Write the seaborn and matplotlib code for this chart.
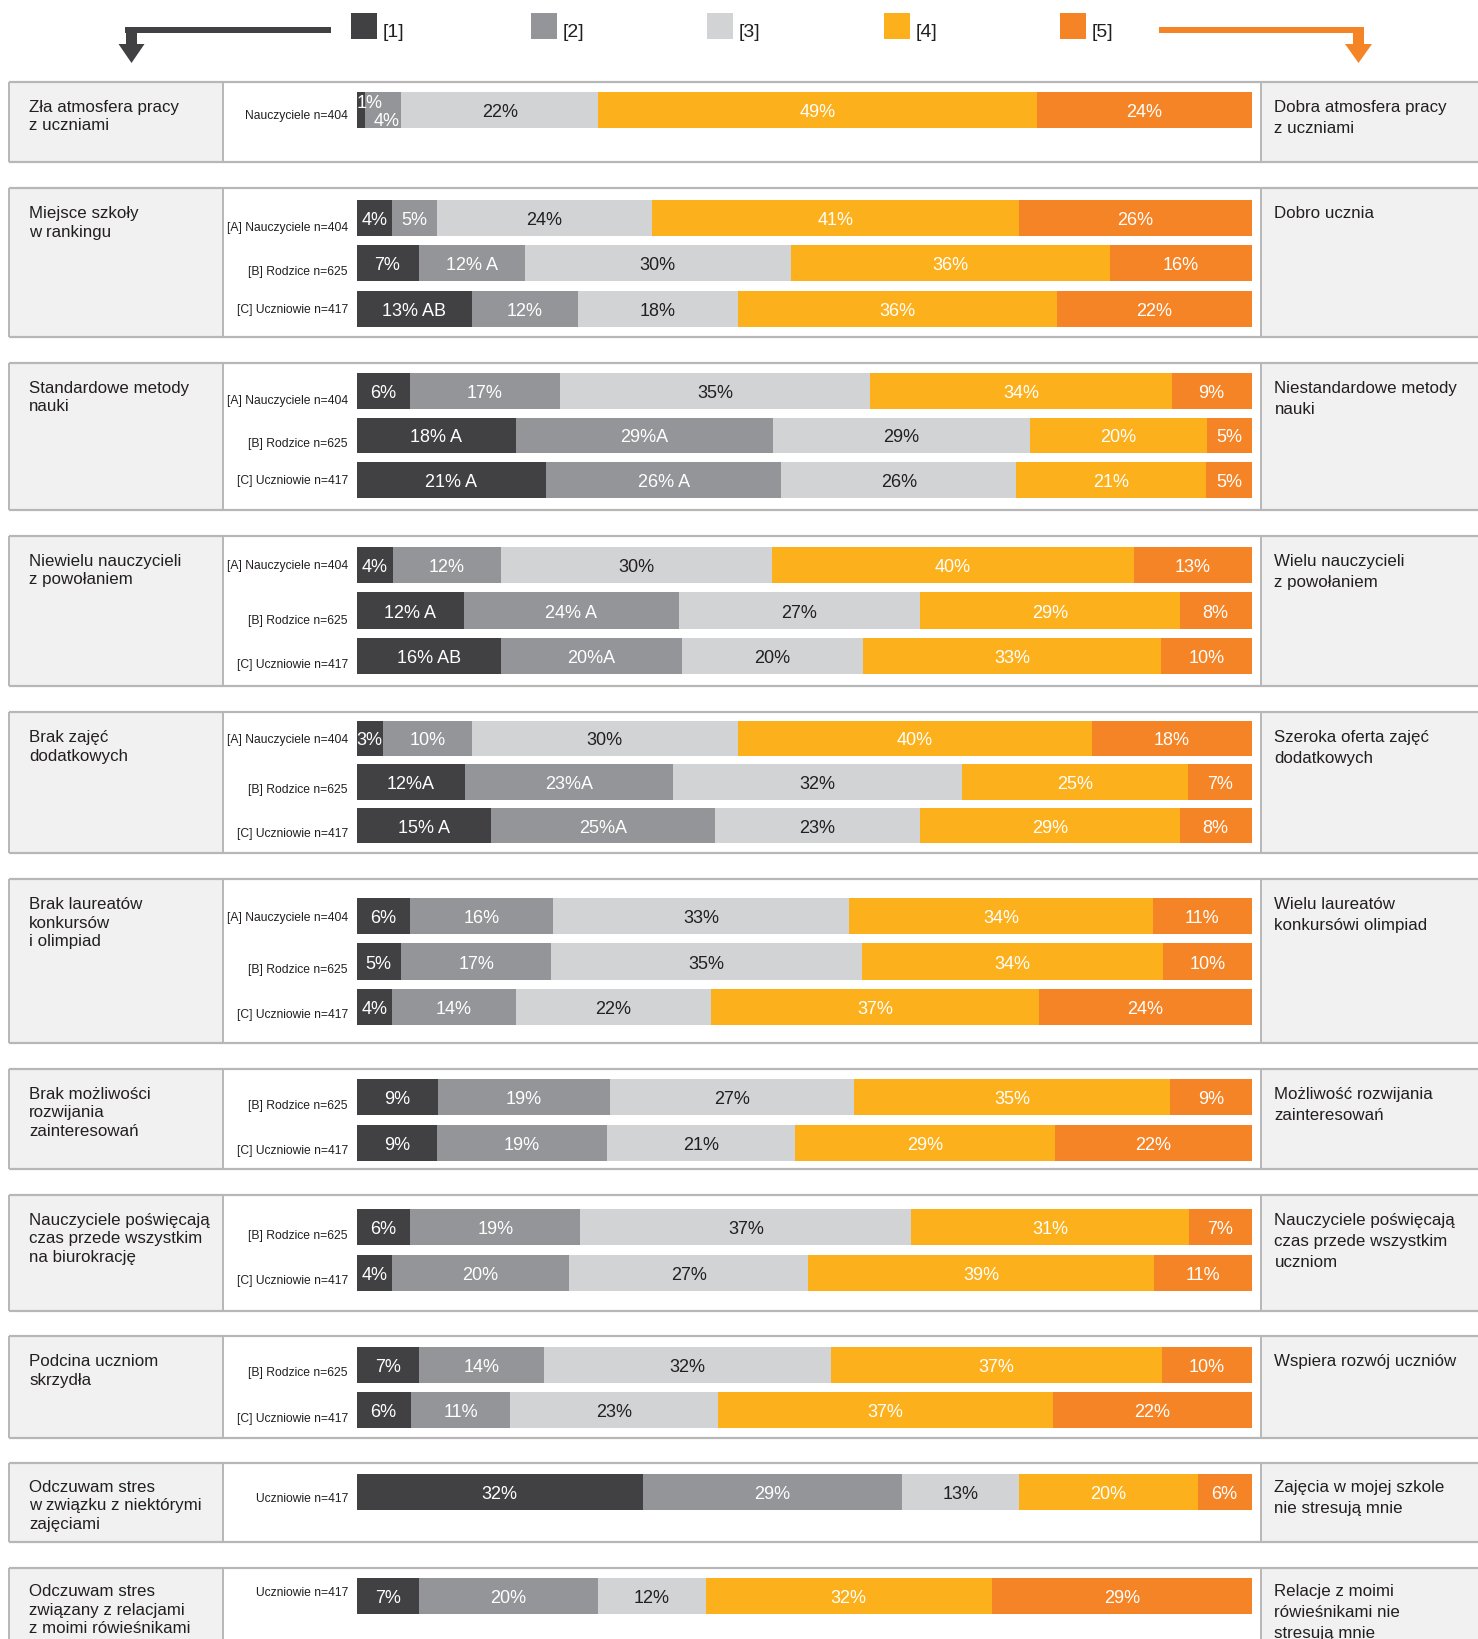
import numpy as np
import pandas as pd
import matplotlib
matplotlib.use("Agg")
import matplotlib.pyplot as plt
import matplotlib.transforms as mtransforms
from matplotlib.patches import Rectangle, Polygon
from matplotlib import font_manager as fm
import seaborn as sns

# ---------------------------------------------------------------- data
SCALE = ["[1]", "[2]", "[3]", "[4]", "[5]"]

LEFT_TEXT = [
    ["Zła atmosfera pracy", "z uczniami"],
    ["Miejsce szkoły", "w rankingu"],
    ["Standardowe metody", "nauki"],
    ["Niewielu nauczycieli", "z powołaniem"],
    ["Brak zajęć", "dodatkowych"],
    ["Brak laureatów", "konkursów", "i olimpiad"],
    ["Brak możliwości", "rozwijania", "zainteresowań"],
    ["Nauczyciele poświęcają", "czas przede wszystkim", "na biurokrację"],
    ["Podcina uczniom", "skrzydła"],
    ["Odczuwam stres", "w związku z niektórymi", "zajęciami"],
    ["Odczuwam stres", "związany z relacjami", "z moimi rówieśnikami"],
]

RIGHT_TEXT = [
    ["Dobra atmosfera pracy", "z uczniami"],
    ["Dobro ucznia"],
    ["Niestandardowe metody", "nauki"],
    ["Wielu nauczycieli", "z powołaniem"],
    ["Szeroka oferta zajęć", "dodatkowych"],
    ["Wielu laureatów", "konkursówi olimpiad"],
    ["Możliwość rozwijania", "zainteresowań"],
    ["Nauczyciele poświęcają", "czas przede wszystkim", "uczniom"],
    ["Wspiera rozwój uczniów"],
    ["Zajęcia w mojej szkole", "nie stresują mnie"],
    ["Relacje z moimi", "rówieśnikami nie", "stresują mnie"],
]

ABC = ["[A] Nauczyciele n=404", "[B] Rodzice n=625", "[C] Uczniowie n=417"]
BC = ["[B] Rodzice n=625", "[C] Uczniowie n=417"]
ROW_NAMES = [
    ["Nauczyciele n=404"],
    ABC, ABC, ABC, ABC, ABC,
    BC, BC, BC,
    ["Uczniowie n=417"],
    ["Uczniowie n=417"],
]

VALUES = [
    [[1, 4, 22, 49, 24]],
    [[4, 5, 24, 41, 26], [7, 12, 30, 36, 16], [13, 12, 18, 36, 22]],
    [[6, 17, 35, 34, 9], [18, 29, 29, 20, 5], [21, 26, 26, 21, 5]],
    [[4, 12, 30, 40, 13], [12, 24, 27, 29, 8], [16, 20, 20, 33, 10]],
    [[3, 10, 30, 40, 18], [12, 23, 32, 25, 7], [15, 25, 23, 29, 8]],
    [[6, 16, 33, 34, 11], [5, 17, 35, 34, 10], [4, 14, 22, 37, 24]],
    [[9, 19, 27, 35, 9], [9, 19, 21, 29, 22]],
    [[6, 19, 37, 31, 7], [4, 20, 27, 39, 11]],
    [[7, 14, 32, 37, 10], [6, 11, 23, 37, 22]],
    [[32, 29, 13, 20, 6]],
    [[7, 20, 12, 32, 29]],
]

# significance letters printed after some percentages
E = ["", "", "", "", ""]
MARKS = [
    [E],
    [E, ["", " A", "", "", ""], [" AB", "", "", "", ""]],
    [E, [" A", "A", "", "", ""], [" A", " A", "", "", ""]],
    [E, [" A", " A", "", "", ""], [" AB", "A", "", "", ""]],
    [E, ["A", "A", "", "", ""], [" A", "A", "", "", ""]],
    [E, E, E],
    [E, E],
    [E, E],
    [E, E],
    [E],
    [E],
]

# ---------------------------------------------------------------- style / layout (pixels)
COLORS = ["#414042", "#939598", "#d1d3d4", "#fcb01b", "#f58426"]
LABEL_COLORS = ["white", "white", "#231f20", "white", "white"]
PANEL_BG = "#f1f1f1"
RULE = "#b7b7b7"
INK = "#231f20"

W, H, DPI = 1478, 1639, 100
X_LEFT0, X_LEFT1 = 9.4, 222.6
X_BAR0, X_BAR1 = 356.5, 1251.5
X_RIGHT0 = 1261.0

PANEL_TOP = [81.7, 188.3, 362.7, 535.7, 712.3, 879, 1069, 1195, 1336, 1463.3, 1567.7]
PANEL_BOTTOM = [162.3, 336.7, 510, 686, 853.3, 1043.3, 1169.3, 1311, 1438.3, 1542.3, 1700]
BARS_TOP = [92.3, 200, 373.3, 546.7, 720.7, 898.3, 1079.3, 1209.3, 1346.7, 1474, 1578.3]
BARS_BOTTOM = [128.3, 326.7, 497.7, 674.3, 843.3, 1024.7, 1160.7, 1290.7, 1428.3, 1510, 1614.3]

# vertical nudge (px, downwards) of row captions relative to the bar centre
ROW_DY = [[4], [8, 7, 0], [8, 7, 0], [0, 9, 7], [0, 7, 7], [0, 7, 7],
          [7, 7], [7, 7], [7, 7], [6], [-5]]
# special placement of the two tiny percentages in the first bar
LABEL_NUDGE = {(0, 0, 0): (9, -9.3), (0, 0, 1): (3, 8.7)}

sns.set_theme(style="white")
names = {f.name for f in fm.fontManager.ttflist}
NARROW = "Liberation Sans Narrow" if "Liberation Sans Narrow" in names else None
plt.rcParams["font.family"] = ["Liberation Sans", "DejaVu Sans"]
if NARROW:
    VAL_FONT = dict(family=[NARROW, "Liberation Sans", "DejaVu Sans"], size=14)
    ROW_FONT = dict(family=[NARROW, "Liberation Sans", "DejaVu Sans"], size=10)
else:
    VAL_FONT = dict(family=["Liberation Sans", "DejaVu Sans"], size=13)
    ROW_FONT = dict(family=["Liberation Sans", "DejaVu Sans"], size=8.7)
CAT_SIZE = 12.2
PX = 72.0 / DPI  # points per pixel

fig = plt.figure(figsize=(W / DPI, H / DPI), dpi=DPI)
fig.patch.set_facecolor("white")

# background canvas in pixel coordinates
bg = fig.add_axes([0, 0, 1, 1])
bg.set_xlim(0, W)
bg.set_ylim(H, 0)
bg.axis("off")
bg.set_zorder(0)

# ---------------------------------------------------------------- legend and arrows
LEG_X = [351, 531, 707, 884, 1060]
for x, name, col in zip(LEG_X, SCALE, COLORS):
    bg.add_patch(Rectangle((x, 13.3), 26, 26, fc=col, ec="none"))
    bg.text(x + 32, 37, name, fontsize=14, color=INK, ha="left", va="baseline")

dark, orange = COLORS[0], COLORS[4]
bg.add_patch(Rectangle((125, 26.5), 331 - 125, 6, fc=dark, ec="none"))
bg.add_patch(Rectangle((126, 26.5), 11, 18, fc=dark, ec="none"))
bg.add_patch(Polygon([(118.5, 44), (144.5, 44), (131.5, 63)], closed=True, fc=dark, ec="none"))

bg.add_patch(Rectangle((1159, 26.5), 1364 - 1159, 6, fc=orange, ec="none"))
bg.add_patch(Rectangle((1353, 26.5), 11, 18, fc=orange, ec="none"))
bg.add_patch(Polygon([(1345, 44), (1372, 44), (1358.5, 63)], closed=True, fc=orange, ec="none"))

# ---------------------------------------------------------------- group frames and texts
for g in range(len(VALUES)):
    top, bot = PANEL_TOP[g], PANEL_BOTTOM[g]
    bg.add_patch(Rectangle((X_LEFT0, top), X_LEFT1 - X_LEFT0, bot - top, fc=PANEL_BG, ec="none"))
    bg.add_patch(Rectangle((X_RIGHT0, top), W - X_RIGHT0, bot - top, fc=PANEL_BG, ec="none"))
    for y in (top, bot):
        bg.plot([X_LEFT0, W], [y, y], color=RULE, lw=1.6, solid_capstyle="butt")
    for x in (X_LEFT0, X_LEFT1, X_RIGHT0):
        bg.plot([x, x], [top, bot], color=RULE, lw=1.4, solid_capstyle="butt")

    first = top + (28.5 if g >= 9 else 30)
    for i, line in enumerate(LEFT_TEXT[g]):
        bg.text(29.2, first + i * 18.5, line, fontsize=CAT_SIZE, color=INK,
                ha="left", va="baseline")
    for i, line in enumerate(RIGHT_TEXT[g]):
        bg.text(1274.5, first + i * 21, line, fontsize=CAT_SIZE, color=INK,
                ha="left", va="baseline")

# ---------------------------------------------------------------- stacked bars
for g, (rows, vals) in enumerate(zip(ROW_NAMES, VALUES)):
    vals = np.asarray(vals, dtype=float)
    shares = vals / vals.sum(axis=1, keepdims=True) * 100.0
    lefts = np.cumsum(shares, axis=1) - shares
    n = len(rows)

    y0, y1 = BARS_TOP[g], BARS_BOTTOM[g]
    ax = fig.add_axes([X_BAR0 / W, 1 - y1 / H, (X_BAR1 - X_BAR0) / W, (y1 - y0) / H])
    ax.set_zorder(2)
    ax.patch.set_alpha(0)

    for k in range(5):
        df = pd.DataFrame({"row": rows, "share": shares[:, k]})
        sns.barplot(data=df, x="share", y="row", order=rows, orient="h",
                    color=COLORS[k], saturation=1, width=0.8, errorbar=None,
                    left=lefts[:, k], linewidth=0, ax=ax)

    for r in range(n):
        for k in range(5):
            text = f"{int(vals[r, k])}%{MARKS[g][r][k]}"
            dx, dy = LABEL_NUDGE.get((g, r, k), (0, 0))
            ax.annotate(text, xy=(lefts[r, k] + shares[r, k] / 2, r),
                        xytext=(dx * PX, -(7 + dy) * PX), textcoords="offset points",
                        ha="center", va="baseline", color=LABEL_COLORS[k], **VAL_FONT)

    ax.set_xlim(0, 100)
    ax.set_ylim(n - 1 + 0.4, -0.4)
    ax.set_xlabel("")
    ax.set_ylabel("")
    ax.set_xticks([])
    for sp in ax.spines.values():
        sp.set_visible(False)
    ax.grid(False)
    ax.tick_params(axis="y", length=0, pad=8.5 * PX, labelcolor=INK,
                   labelsize=ROW_FONT["size"])
    for lbl, dy in zip(ax.get_yticklabels(), ROW_DY[g]):
        lbl.set_family(ROW_FONT["family"])
        lbl.set_transform(lbl.get_transform() +
                          mtransforms.ScaledTranslation(0, -dy / DPI, fig.dpi_scale_trans))

fig.savefig("out.png", dpi=DPI, facecolor="white")
